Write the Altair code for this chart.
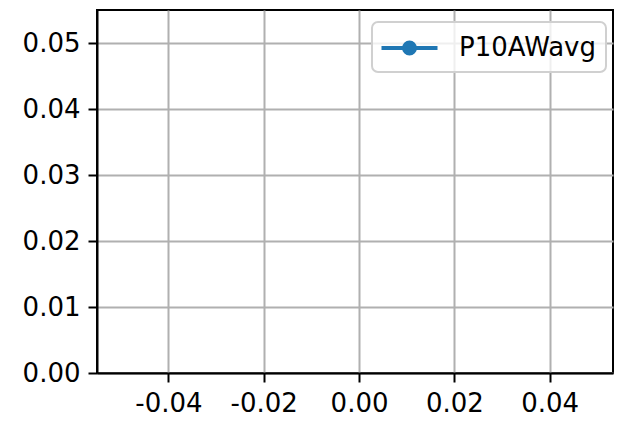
import altair as alt
import pandas as pd

# Data (the reference series has no visible points)
series_name = "P10AWavg"
x_values = []
y_values = []
x_ticks = [-0.04, -0.02, 0.0, 0.02, 0.04]
y_ticks = [0.0, 0.01, 0.02, 0.03, 0.04, 0.05]
x_domain = [-0.055, 0.0533]
y_domain = [0.0, 0.055]

df = pd.DataFrame({
    "x": pd.Series(x_values, dtype=float),
    "y": pd.Series(y_values, dtype=float),
    "series": pd.Series([series_name] * len(x_values), dtype=str),
})

FONT = "DejaVu Sans"
FS = 26

legend_symbol = (
    "M-2,0H2"
    "M-0.39,0A0.39,0.39,0,1,1,0.39,0A0.39,0.39,0,1,1,-0.39,0Z"
)

chart = alt.Chart(df).mark_line(point=True, strokeWidth=4).encode(
    x=alt.X("x:Q", scale=alt.Scale(domain=x_domain, nice=False, zero=False),
            axis=alt.Axis(values=x_ticks, title=None,
                          labelExpr="datum.value < 0 ? '-' + format(-datum.value, '.2f') : format(datum.value, '.2f')")),
    y=alt.Y("y:Q", scale=alt.Scale(domain=y_domain, nice=False, zero=False),
            axis=alt.Axis(values=y_ticks, format=".2f", title=None)),
    color=alt.Color("series:N",
                    scale=alt.Scale(domain=[series_name], range=["#1f77b4"]),
                    legend=alt.Legend(
                        title=None, orient="none", legendX=275, legendY=12,
                        padding=10, symbolType=legend_symbol, symbolSize=784,
                        symbolStrokeWidth=4, symbolStrokeColor="#1f77b4",
                        symbolFillColor="#1f77b4", symbolOffset=11.5,
                        labelOffset=33.5, labelFont=FONT, labelFontSize=FS,
                        labelColor="black", fillColor="rgba(255,255,255,0.8)",
                        strokeColor="#d0d0d0", cornerRadius=6,
                    )),
).properties(
    width=516, height=363,
    autosize=alt.AutoSizeParams(type="none"),
    padding={"left": 89, "top": 2, "right": 1, "bottom": 44},
).configure_view(
    stroke="black", strokeWidth=2,
).configure_axis(
    grid=True, gridColor="#b0b0b0", gridWidth=2,
    domain=True, domainColor="black", domainWidth=2,
    ticks=True, tickColor="black", tickWidth=2, tickSize=9,
    labelFont=FONT, labelFontSize=FS, labelColor="black", labelPadding=8,
    labelFlush=False, labelOverlap=False,
).configure_legend(
    strokeWidth=2,
)

chart.save("out.html", embed_options={"renderer": "svg", "actions": False})
